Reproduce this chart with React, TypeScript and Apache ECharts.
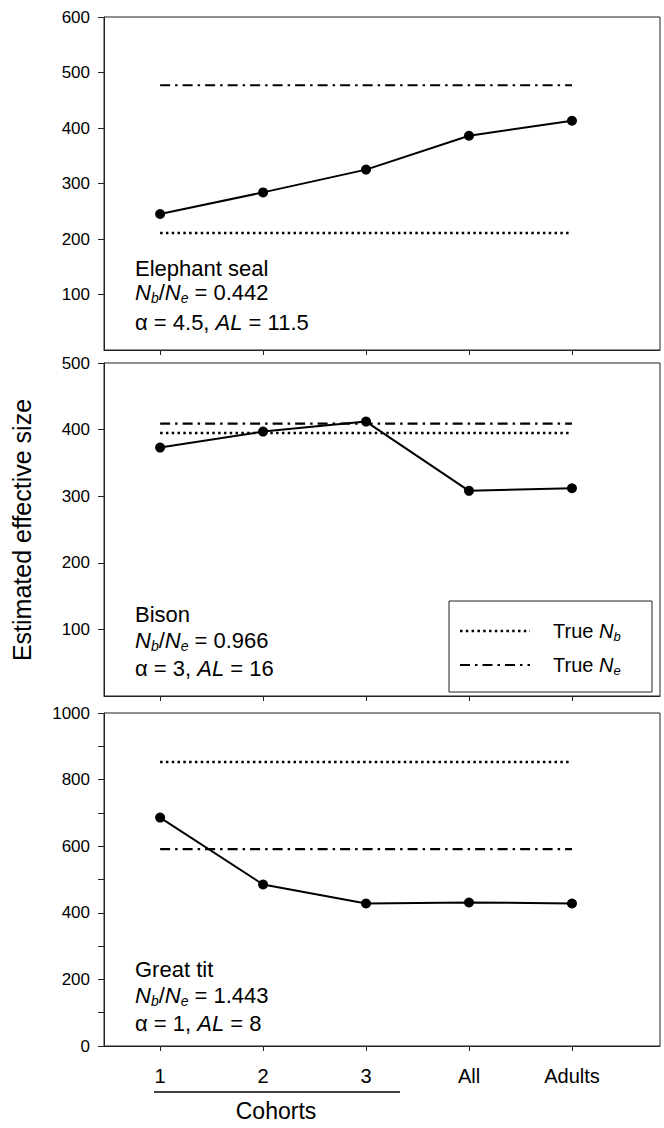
import React, { useEffect, useRef } from "react";
import * as echarts from "echarts";

const categories = ["1", "2", "3", "All", "Adults"];
const categoryPositions = [1, 2, 3, 4, 5];

const sealEstimates = [245, 284, 325, 386, 413];
const sealNb = 211;
const sealNe = 477;

const bisonEstimates = [373, 397, 412, 308, 312];
const bisonNb = 395;
const bisonNe = 409;

const titEstimates = [686, 485, 428, 431, 428];
const titNb = 853;
const titNe = 591;

const panelRanges = [
  { min: 0, max: 600, interval: 100 },
  { min: 0, max: 500, interval: 100 },
  { min: 0, max: 1000, interval: 100 },
];

const FONT = "'Liberation Sans', Arial, sans-serif";

const GRID_LEFT = 104;
const GRID_WIDTH = 556;
const GRID_TOPS = [17, 363, 713];
const GRID_HEIGHT = 333;

function pairs(values: number[]) {
  return categoryPositions.map((x, i) => [x, values[i]]);
}
function flat(v: number) {
  return categoryPositions.map((x) => [x, v]);
}

const textRich = {
  n: { fontSize: 22, fontFamily: FONT, color: "#000", lineHeight: 26 },
  i: { fontSize: 22, fontFamily: FONT, fontStyle: "italic", color: "#000", lineHeight: 26 },
  s: { fontSize: 14, fontFamily: FONT, fontStyle: "italic", color: "#000", lineHeight: 15, verticalAlign: "bottom" },
};

const legendRich = {
  n: { fontSize: 20, fontFamily: FONT, color: "#000", lineHeight: 24 },
  i: { fontSize: 20, fontFamily: FONT, fontStyle: "italic", color: "#000", lineHeight: 24 },
  s: { fontSize: 13, fontFamily: FONT, fontStyle: "italic", color: "#000", lineHeight: 14, verticalAlign: "bottom" },
};

function annotation(top: number, offs: number[], name: string, ratio: string, alpha: string, al: string) {
  return [
    {
      type: "text",
      x: 135,
      y: top + offs[0],
      style: { text: name, font: `22px ${FONT}`, fill: "#000", verticalAlign: "middle" },
    },
    {
      type: "text",
      x: 135,
      y: top + offs[1],
      style: {
        text: `{i|N}{s|b}{n|/}{i|N}{s|e}{n| = ${ratio}}`,
        rich: textRich,
        verticalAlign: "middle",
      },
    },
    {
      type: "text",
      x: 135,
      y: top + offs[2],
      style: {
        text: `{n|α = ${alpha}, }{i|AL}{n| = ${al}}`,
        rich: textRich,
        verticalAlign: "middle",
      },
    },
  ];
}

export default function App() {
  const ref = useRef<HTMLDivElement>(null);

  useEffect(() => {
    document.body.style.margin = "0";
    if (!ref.current) return;
    const chart = echarts.init(ref.current, null, { renderer: "svg" });

    const grids = GRID_TOPS.map((top) => ({
      left: GRID_LEFT,
      top,
      width: GRID_WIDTH,
      height: GRID_HEIGHT,
      show: true,
      borderColor: "#222",
      borderWidth: 1,
      backgroundColor: "transparent",
      containLabel: false,
    }));

    const xAxes = GRID_TOPS.map((_, idx) => ({
      type: "value",
      gridIndex: idx,
      min: 0.455,
      max: 5.855,
      axisLine: { show: true, onZero: false, lineStyle: { color: "#222", width: 1 } },
      axisTick: {
        show: true,
        length: 5,
        inside: false,
        customValues: categoryPositions,
        lineStyle: { color: "#222" },
      },
      axisLabel: {
        show: idx === 2,
        customValues: categoryPositions,
        margin: 20,
        fontSize: 20,
        fontFamily: FONT,
        color: "#000",
        formatter: (v: number) => categories[Math.round(v) - 1] ?? "",
      },
      splitLine: { show: false },
    }));

    const yAxes = panelRanges.map((r, idx) => ({
      type: "value",
      gridIndex: idx,
      min: r.min,
      max: r.max,
      interval: r.interval,
      axisLine: { show: true, lineStyle: { color: "#222", width: 1 } },
      axisTick: { show: true, length: 6, inside: false, lineStyle: { color: "#222" } },
      axisLabel: {
        show: true,
        showMinLabel: idx === 2,
        margin: 14,
        fontSize: 17,
        fontFamily: FONT,
        color: "#000",
        formatter: (v: number) => (idx === 2 && v % 200 !== 0 ? "" : String(v)),
      },
      splitLine: { show: false },
    }));

    const nbStyle = { color: "#000", width: 2.5, type: [2.5, 3.3] as number[] };
    const neStyle = { color: "#000", width: 2.2, type: [10, 5, 2.5, 5] as number[] };

    const panels = [
      { est: sealEstimates, nb: sealNb, ne: sealNe },
      { est: bisonEstimates, nb: bisonNb, ne: bisonNe },
      { est: titEstimates, nb: titNb, ne: titNe },
    ];

    const series: any[] = [];
    panels.forEach((p, idx) => {
      series.push({
        type: "line",
        xAxisIndex: idx,
        yAxisIndex: idx,
        data: flat(p.nb),
        symbol: "none",
        lineStyle: nbStyle,
        z: 2,
        silent: true,
      });
      series.push({
        type: "line",
        xAxisIndex: idx,
        yAxisIndex: idx,
        data: flat(p.ne),
        symbol: "none",
        lineStyle: neStyle,
        z: 2,
        silent: true,
      });
      series.push({
        type: "line",
        xAxisIndex: idx,
        yAxisIndex: idx,
        data: pairs(p.est),
        symbol: "circle",
        symbolSize: 10,
        itemStyle: { color: "#000", borderWidth: 0 },
        lineStyle: { color: "#000", width: 2 },
        z: 3,
        silent: true,
      });
    });

    const legendX = 449;
    const legendY = 601;

    const graphic: any[] = [
      ...annotation(GRID_TOPS[0], [251, 275, 305], "Elephant seal", "0.442", "4.5", "11.5"),
      ...annotation(GRID_TOPS[1], [251, 277, 305], "Bison", "0.966", "3", "16"),
      ...annotation(GRID_TOPS[2], [256, 282, 310], "Great tit", "1.443", "1", "8"),
      {
        type: "text",
        x: 22,
        y: 530,
        rotation: Math.PI / 2,
        style: {
          text: "Estimated effective size",
          font: `25px ${FONT}`,
          fill: "#000",
          align: "center",
          verticalAlign: "middle",
        },
      },
      {
        type: "rect",
        shape: { x: legendX, y: legendY, width: 203, height: 91 },
        style: { fill: "#fff", stroke: "#222", lineWidth: 1 },
        z: 10,
      },
      {
        type: "line",
        shape: { x1: legendX + 11, y1: legendY + 30, x2: legendX + 81, y2: legendY + 30 },
        style: { stroke: "#000", lineWidth: 2.5, lineDash: [2.5, 3.3] },
        z: 11,
      },
      {
        type: "line",
        shape: { x1: legendX + 11, y1: legendY + 64, x2: legendX + 81, y2: legendY + 64 },
        style: { stroke: "#000", lineWidth: 2.2, lineDash: [10, 5, 2.5, 5] },
        z: 11,
      },
      {
        type: "text",
        x: legendX + 104,
        y: legendY + 30,
        z: 11,
        style: { text: "{n|True }{i|N}{s|b}", rich: legendRich, verticalAlign: "middle" },
      },
      {
        type: "text",
        x: legendX + 104,
        y: legendY + 64,
        z: 11,
        style: { text: "{n|True }{i|N}{s|e}", rich: legendRich, verticalAlign: "middle" },
      },
      {
        type: "line",
        shape: { x1: 154, y1: 1092, x2: 400, y2: 1092 },
        style: { stroke: "#000", lineWidth: 1.5 },
      },
      {
        type: "text",
        x: 276,
        y: 1111,
        style: {
          text: "Cohorts",
          font: `23px ${FONT}`,
          fill: "#000",
          align: "center",
          verticalAlign: "middle",
        },
      },
    ];

    chart.setOption({
      animation: false,
      backgroundColor: "#fff",
      grid: grids,
      xAxis: xAxes,
      yAxis: yAxes,
      series,
      graphic,
    });

    return () => {
      chart.dispose();
    };
  }, []);

  return <div ref={ref} style={{ width: 664, height: 1128 }} />;
}
